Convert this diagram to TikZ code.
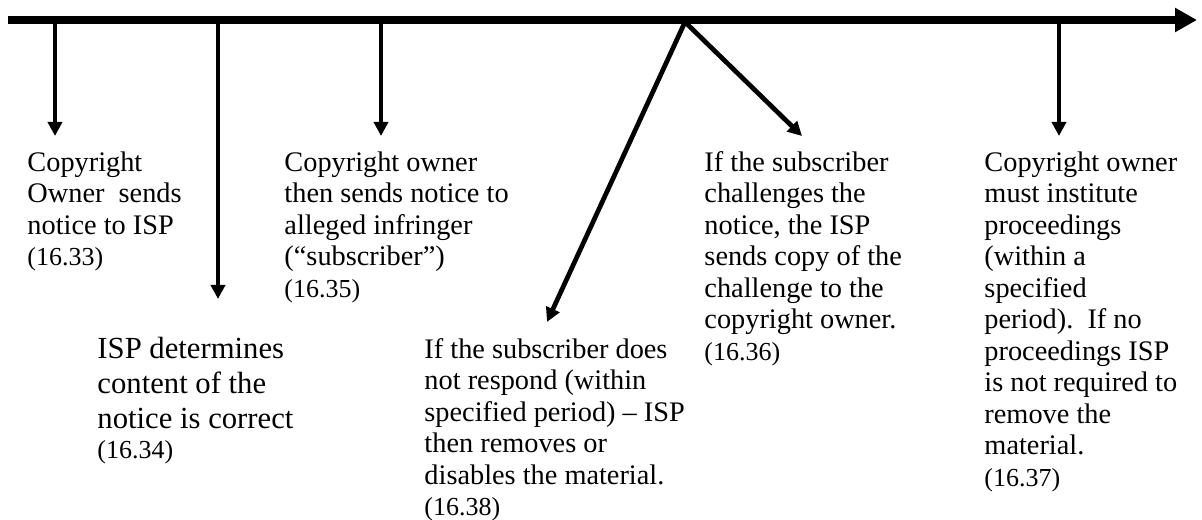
\documentclass[tikz,border=0pt]{standalone}
\usepackage{fontspec}
\setmainfont{Liberation Serif}
\usetikzlibrary{arrows.meta}

\newcommand{\clause}[1]{{\fontsize{11}{12}\selectfont(#1)}}

\begin{document}
\begin{tikzpicture}[
  x=0.4237pt, y=-0.4237pt,
  font=\fontsize{12}{13.35}\selectfont,
  timeline/.style={line width=3.4pt, -{Triangle[length=9.3pt,width=9.7pt]}},
  pointer/.style={line width=2pt, -{Triangle[length=6pt,width=6pt]}},
  event/.style={anchor=north west, inner sep=0pt, align=left},
  bigevent/.style={event, font=\fontsize{13}{14.8}\selectfont}
]
\useasboundingbox (0,0) rectangle (1202,520);

% Time line.
\coordinate (start) at (8,20);
\coordinate (finish) at (1197,20);
\draw[timeline] (start) -- (finish);

% Where the steps leave the time line, and where their arrows end.
\coordinate (b1) at (55,20);
\coordinate (b2) at (218,20);
\coordinate (b3) at (381,20);
\coordinate (b4) at (685,22);
\coordinate (b6) at (1059,20);

\coordinate (t1) at (55,136);
\coordinate (t2) at (218,299);
\coordinate (t3) at (381,136);
\coordinate (t4) at (547,322);
\coordinate (t5) at (802,136);
\coordinate (t6) at (1059,136);

% Steps of the notice procedure.
\node[event] (owner) at (27,151)
  {Copyright\\Owner\ \ sends\\notice to ISP\\\clause{16.33}};
\node[bigevent] (isp) at (97,337)
  {ISP determines\\content of the\\notice is correct\\[-2pt]\clause{16.34}};
\node[event] (notify) at (284,151)
  {Copyright owner\\then sends notice to\\alleged infringer\\(“subscriber”)\\\clause{16.35}};
\node[event] (noreply) at (424,338)
  {If the subscriber does\\not respond (within\\specified period) -- ISP\\then removes or\\disables the material.\\\clause{16.38}};
\node[event] (challenge) at (704,151)
  {If the subscriber\\challenges the\\notice, the ISP\\sends copy of the\\challenge to the\\copyright owner.\\\clause{16.36}};
\node[event] (proceed) at (984,151)
  {Copyright owner\\must institute\\proceedings\\(within a\\specified\\period).\ \ If no\\proceedings ISP\\is not required to\\remove the\\material.\\\clause{16.37}};

% Arrows down to each step.
\draw[pointer] (b1) -- (t1);
\draw[pointer] (b2) -- (t2);
\draw[pointer] (b3) -- (t3);
\draw[pointer] (b4) -- (t4);
\draw[pointer] (b4) -- (t5);
\draw[pointer] (b6) -- (t6);

\end{tikzpicture}
\end{document}
